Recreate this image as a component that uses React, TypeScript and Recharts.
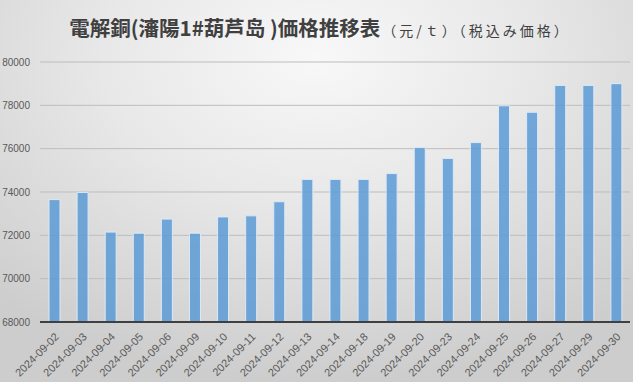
import { BarChart, Bar, XAxis, YAxis, CartesianGrid } from 'recharts'

const DATES = [
  '2024-09-02', '2024-09-03', '2024-09-04', '2024-09-05', '2024-09-06',
  '2024-09-09', '2024-09-10', '2024-09-11', '2024-09-12', '2024-09-13',
  '2024-09-14', '2024-09-18', '2024-09-19', '2024-09-20', '2024-09-23',
  '2024-09-24', '2024-09-25', '2024-09-26', '2024-09-27', '2024-09-29',
  '2024-09-30',
]

const PRICES = [
  73650, 73980, 72150, 72100, 72750,
  72100, 72850, 72900, 73550, 74580,
  74580, 74580, 74850, 76050, 75550,
  76280, 77980, 77680, 78920, 78920,
  79000,
]

const Y_TICKS = [68000, 70000, 72000, 74000, 76000, 78000, 80000]

const data = DATES.map((d, i) => ({ date: d, price: PRICES[i] }))

const FONT = '"Liberation Sans", "Noto Sans", sans-serif'

export default function App() {
  return (
    <div
      style={{
        position: 'absolute',
        left: 0,
        top: 0,
        width: 633,
        height: 382,
        overflow: 'hidden',
        background: 'radial-gradient(ellipse 75% 85% at 50% 15%, #f8f8f8 0%, #e8e8e8 45%, #cdcdcd 100%)',
      }}
    >
      <div
        style={{
          position: 'absolute',
          top: 12,
          left: 0,
          width: 640,
          textAlign: 'center',
          fontFamily: '"Noto Sans CJK JP", sans-serif',
          color: '#404040',
          whiteSpace: 'nowrap',
        }}
      >
        <span style={{ fontSize: 20.5, fontWeight: 700 }}>電解銅(瀋陽1#葫芦岛 )価格推移表</span>
        <span style={{ fontSize: 14, letterSpacing: 3, marginLeft: 2 }}>（元/ｔ）（税込み価格）</span>
      </div>
      <BarChart
        width={633}
        height={382}
        data={data}
        margin={{ top: 62, right: 3, bottom: 0, left: 0 }}
        barSize={11}
      >
        <CartesianGrid vertical={false} stroke="#bdbdbd" strokeWidth={1} />
        <YAxis
          width={40}
          domain={[68000, 80000]}
          ticks={Y_TICKS}
          axisLine={false}
          tickLine={false}
          tickSize={0}
          tickMargin={10}
          tick={{ fontSize: 10, fill: '#595959', fontFamily: FONT, textAnchor: 'end' }}
          interval={0}
        />
        <XAxis
          dataKey="date"
          height={60}
          interval={0}
          angle={-45}
          textAnchor="end"
          tickLine={false}
          axisLine={{ stroke: '#404040', strokeWidth: 2 }}
          tick={{ fontSize: 11, fill: '#595959', fontFamily: FONT }}
          tickMargin={4}
        />
        <Bar
          dataKey="price"
          fill="#5b9bd5"
          fillOpacity={0.85}
          stroke="#dce9f6"
          strokeWidth={1}
          isAnimationActive={false}
        />
      </BarChart>
    </div>
  )
}
